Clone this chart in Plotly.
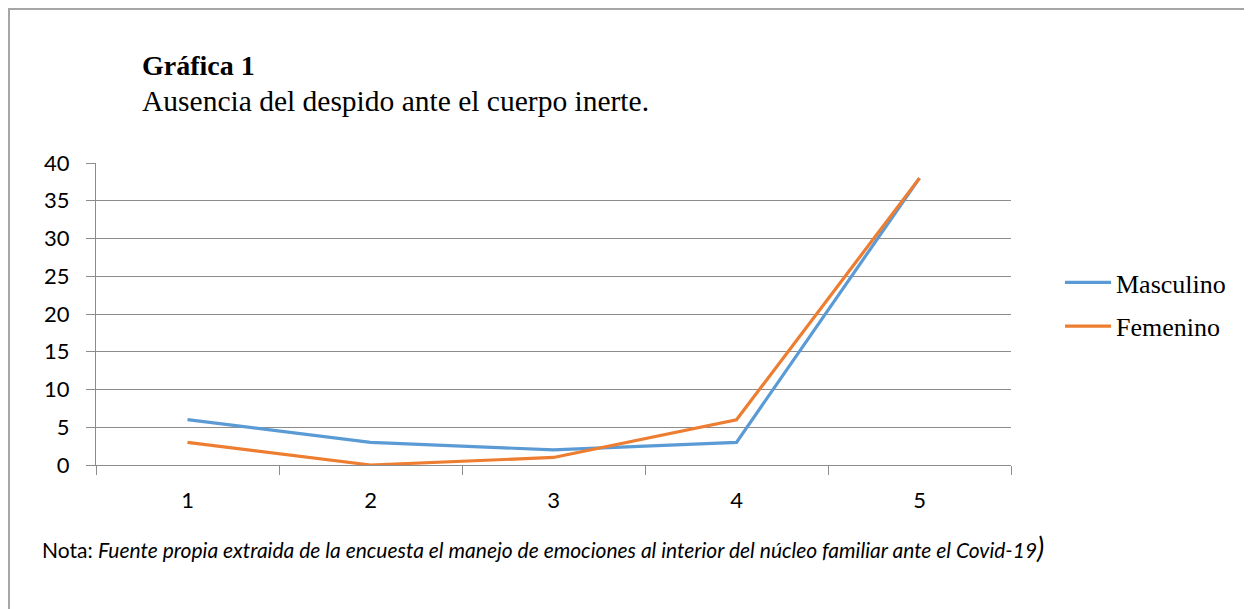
import plotly.graph_objects as go

categories = ["1", "2", "3", "4", "5"]
masculino = [6, 3, 2, 3, 38]
femenino = [3, 0, 1, 6, 38]
y_ticks = [0, 5, 10, 15, 20, 25, 30, 35, 40]

OFF = 8  # page body margin
W, H = 1252 - OFF, 609 - OFF
L, T = 96 - OFF, 163 - OFF
R = W - (1011 - OFF)
B = H - (465 - OFF)
PW, PH = W - L - R, H - T - B


def px(x):
    return (x - OFF - L) / PW


def py(y):
    return (H - B - (y - OFF)) / PH


fig = go.Figure()
fig.add_trace(go.Scatter(x=categories, y=masculino, mode="lines", name="Masculino",
                         line=dict(color="#5B9BD5", width=3.2), legendgroup="m"))
fig.add_trace(go.Scatter(x=categories, y=femenino, mode="lines", name="Femenino",
                         line=dict(color="#ED7D31", width=3.2), legendgroup="f"))

fig.update_layout(
    width=W, height=H,
    margin=dict(l=L, r=R, t=T, b=B),
    paper_bgcolor="white", plot_bgcolor="white",
    showlegend=True,
    legend=dict(x=px(1060), y=py(259), xanchor="left", yanchor="top",
                font=dict(family="Liberation Serif", size=26, color="black"),
                tracegroupgap=7, itemwidth=46, bgcolor="rgba(0,0,0,0)"),
    xaxis=dict(type="category", range=[-0.5, 4.5], showgrid=False,
               showline=True, linecolor="#8C8C8C", linewidth=1,
               ticks="outside", tickson="boundaries", ticklen=9, tickcolor="#8C8C8C",
               tickfont=dict(family="Lato", size=22, color="black"),
               ticklabelstandoff=16, zeroline=False),
    yaxis=dict(range=[0, 40], tickvals=y_ticks, showgrid=True, gridcolor="#8C8C8C",
               gridwidth=1, showline=True, linecolor="#8C8C8C", linewidth=1,
               ticks="outside", ticklen=9, tickcolor="#8C8C8C",
               tickfont=dict(family="Lato", size=22, color="black"),
               ticklabelstandoff=12, zeroline=False),
)

fig.add_annotation(x=px(140), y=py(83), xref="paper", yref="paper", xanchor="left",
                   yanchor="middle", showarrow=False, align="left",
                   text="<b>Gráfica 1</b><br><span style='font-size:29.5px'>Ausencia del despido ante el cuerpo inerte.</span>",
                   font=dict(family="Liberation Serif", size=28, color="black"))
fig.add_annotation(x=px(40), y=py(547), xref="paper", yref="paper", xanchor="left",
                   yanchor="middle", showarrow=False,
                   text="Nota: <i>Fuente propia extraida de la encuesta el manejo de emociones al interior del núcleo familiar ante el Covid-19</i><span style='font-size:28px'><i>)</i></span>",
                   font=dict(family="Lato", size=21, color="black"))

border = "#A6A6A6"
fig.add_shape(type="line", xref="paper", yref="paper", x0=px(8), x1=px(1252),
              y0=py(9), y1=py(9), line=dict(color=border, width=2))
fig.add_shape(type="line", xref="paper", yref="paper", x0=px(9), x1=px(9),
              y0=py(8), y1=py(609), line=dict(color=border, width=2))

fig.write_html("out.html")
